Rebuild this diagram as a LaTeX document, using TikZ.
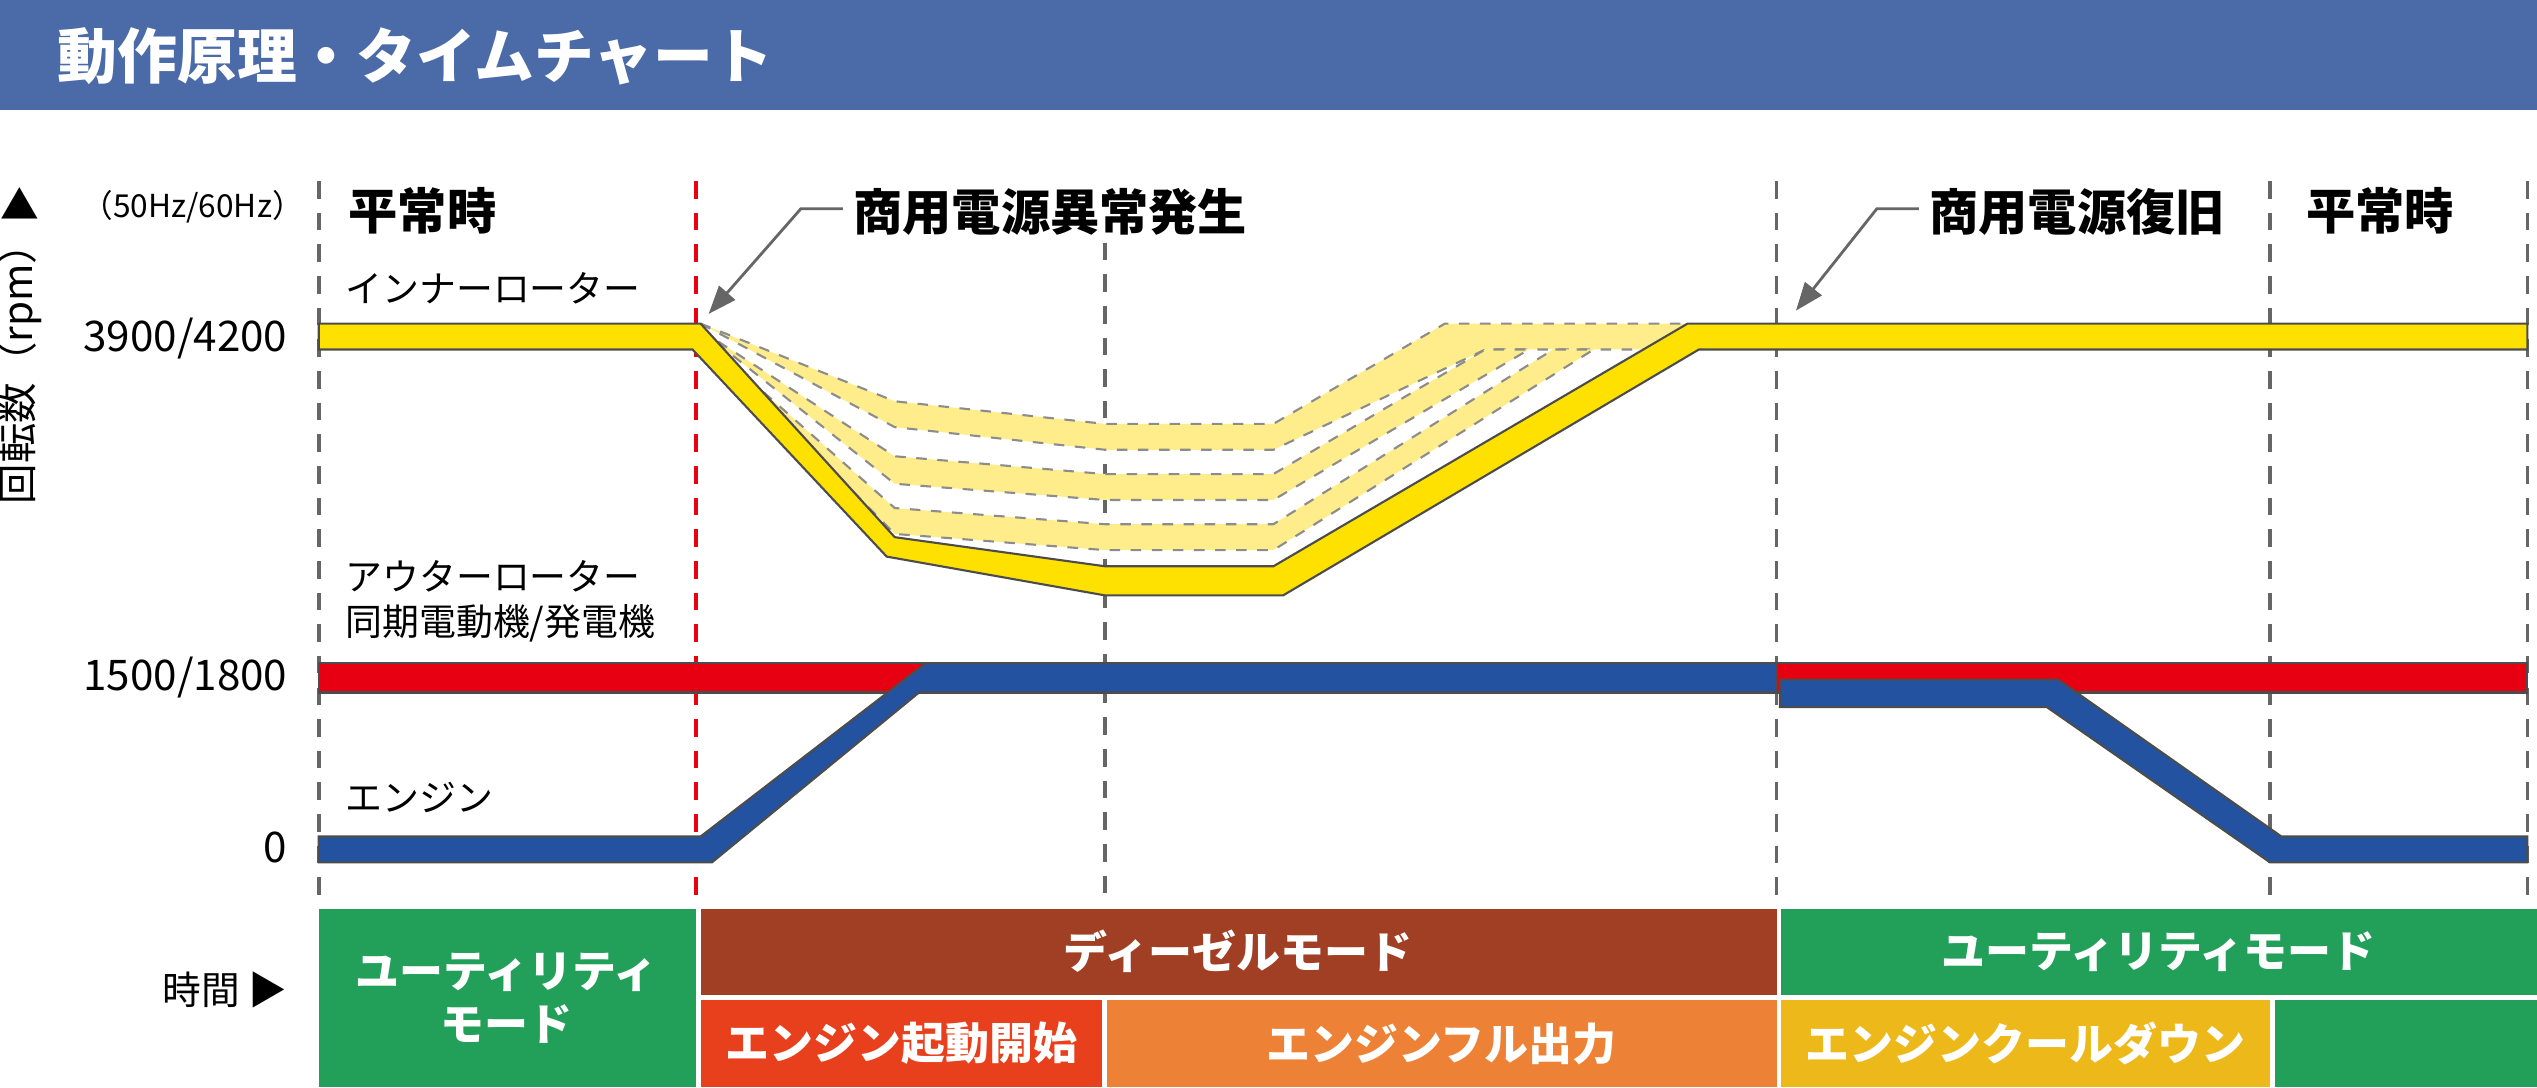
\documentclass[tikz,border=0pt]{standalone}
\usepackage{fontspec}
\setmainfont{Noto Sans CJK JP}
\usetikzlibrary{positioning,arrows.meta}
\definecolor{titleblue}{HTML}{4A6AA8}
\definecolor{bandyellow}{HTML}{FFE100}
\definecolor{lightyellow}{HTML}{FFEC8A}
\definecolor{rotorred}{HTML}{E60012}
\definecolor{engineblue}{HTML}{2353A0}
\definecolor{modegreen}{HTML}{22A05A}
\definecolor{modebrown}{HTML}{A03F24}
\definecolor{startred}{HTML}{E8401C}
\definecolor{fullorange}{HTML}{ED8236}
\definecolor{coolyellow}{HTML}{EDB81A}
\tikzset{
  band/.style={draw=black!70, line width=0.6pt, line join=miter},
  ghost/.style={fill=lightyellow, draw=black!45, dashed, line width=0.6pt},
  grid/.style={draw=black!60, dashed, line width=1pt, dash pattern=on 5pt off 4pt},
  modebox/.style={text=white, font=\fontsize{12.5}{15}\selectfont\bfseries, align=center},
  lbl/.style={font=\fontsize{10.5}{13}\selectfont, anchor=west, inner sep=0pt},
  big/.style={font=\fontsize{14}{16}\selectfont\bfseries, anchor=west, inner sep=0pt},
  num/.style={font=\fontsize{12}{14}\selectfont, anchor=east, inner sep=0pt},
  lead/.style={draw=black!60, line width=0.8pt, -{Triangle[length=8pt,width=6pt]}}
}
\begin{document}
\begin{tikzpicture}[x=0.01618cm, y=-0.01618cm]
    \useasboundingbox (0,0) rectangle (1568,672);

    % --- Title bar ---
    \fill[titleblue] (0,0) rectangle (1568,68);
    \node[anchor=west, text=white, font=\fontsize{17}{20}\selectfont\bfseries] (title) at (28,35) {動作原理・タイムチャート};

    % --- Axis labels ---
    \node[font=\fontsize{11}{13}\selectfont, inner sep=0pt] (up) at (12,126) {▲};
    \node[font=\fontsize{9}{11}\selectfont, anchor=west, inner sep=0pt] (freq) at (50,128) {（50Hz/60Hz）};
    \node[rotate=90, font=\fontsize{11.5}{13}\selectfont, inner sep=0pt] (rpm) at (12,225) {回転数（rpm）};
    \node[num] (v3900) at (178,209) {3900/4200};
    \node[num] (v1500) at (178,419) {1500/1800};
    \node[num] (v0) at (178,524) {0};
    \node[font=\fontsize{11}{13}\selectfont, anchor=east, inner sep=0pt] (time) at (178,612) {時間 ▶};

    % --- Time grid ---
    \foreach \x/\top in {197/112, 683/150, 1098/112, 1403/112, 1562/112}
        \draw[grid] (\x,\top) -- (\x,555);
    \draw[grid, draw=rotorred] (430,112) -- (430,555);

    % --- Phase labels ---
    \node[big] (normal1) at (215,130) {平常時};
    \node[big] (fault) at (527,131) {商用電源異常発生};
    \node[big] (restore) at (1192,131) {商用電源復旧};
    \node[big] (normal2) at (1425,130) {平常時};
    \coordinate (faultpt) at (438,194);
    \coordinate (restorept) at (1110,192);
    \draw[lead] (fault.west) ++(-6,-2) -- ++(-26,0) -- (faultpt);
    \draw[lead] (restore.west) ++(-6,-2) -- ++(-26,0) -- (restorept);

    % --- Curve labels ---
    \node[lbl] (inner) at (213,178) {インナーローター};
    \node[lbl] (outer) at (213,356) {アウターローター};
    \node[lbl] (gen) at (213,385) {同期電動機/発電機};
    \node[lbl] (engine) at (213,493) {エンジン};

    % --- Possible inner rotor paths ---
    \draw[ghost] (433,200) -- (553,248) -- (683,262) -- (787,262) -- (893,200) -- (1045,200)
        -- (1045,216) -- (918,216) -- (787,278) -- (683,278) -- (553,264) -- cycle;
    \draw[ghost] (433,204) -- (553,282) -- (683,293) -- (787,293) -- (918,216) -- (945,216)
        -- (787,309) -- (683,309) -- (553,299) -- cycle;
    \draw[ghost] (433,208) -- (553,314) -- (683,324) -- (787,324) -- (960,216) -- (985,216)
        -- (787,340) -- (683,340) -- (553,330) -- cycle;

    % --- Inner rotor ---
    \draw[band, fill=bandyellow] (197,200) -- (433,200) -- (553,332) -- (683,350) -- (787,350)
        -- (1043,200) -- (1562,200) -- (1562,216) -- (1050,216) -- (793,368) -- (683,368)
        -- (548,344) -- (428,216) -- (197,216) -- cycle;

    % --- Outer rotor ---
    \draw[band, fill=rotorred] (197,410) rectangle (1562,428);

    % --- Engine ---
    \draw[band, fill=engineblue] (197,517) -- (433,517) -- (572,410) -- (1098,410) -- (1098,428)
        -- (568,428) -- (440,533) -- (197,533) -- cycle;
    \draw[band, fill=engineblue] (1100,420) -- (1272,420) -- (1410,517) -- (1562,517) -- (1562,533)
        -- (1403,533) -- (1265,437) -- (1100,437) -- cycle;

    % --- Mode boxes ---
    \fill[modegreen] (197,562) rectangle (430,672);
    \node[modebox] (util1) at (313,617) {ユーティリティ\\モード};
    \fill[modebrown] (433,562) rectangle (1098,615);
    \node[modebox] (diesel) at (765,588) {ディーゼルモード};
    \fill[startred] (433,618) rectangle (681,672);
    \node[modebox] (start) at (557,645) {エンジン起動開始};
    \fill[fullorange] (684,618) rectangle (1098,672);
    \node[modebox] (full) at (891,645) {エンジンフル出力};
    \fill[modegreen] (1101,562) rectangle (1568,615);
    \node[modebox] (util2) at (1334,588) {ユーティリティモード};
    \fill[coolyellow] (1101,618) rectangle (1403,672);
    \node[modebox] (cool) at (1252,645) {エンジンクールダウン};
    \fill[modegreen] (1406,618) rectangle (1568,672);

\end{tikzpicture}
\end{document}
